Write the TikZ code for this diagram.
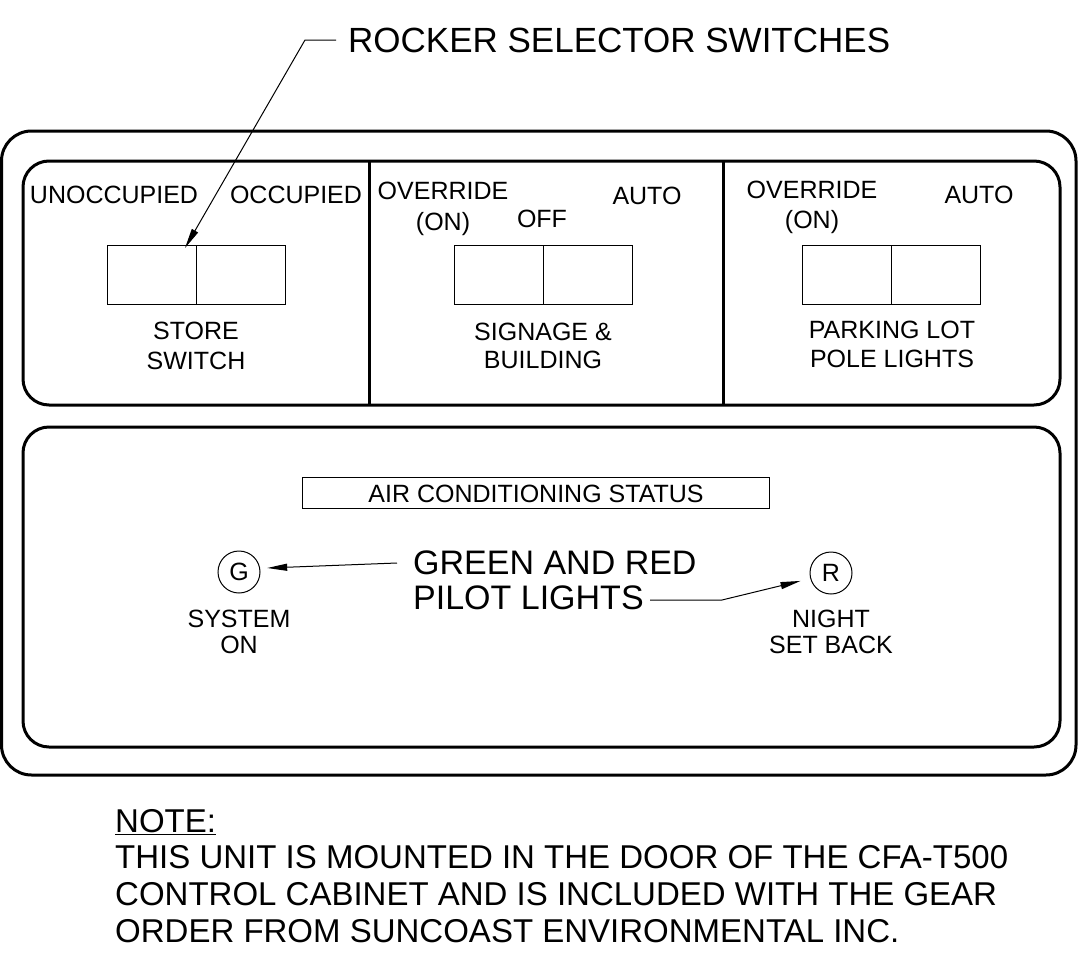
\documentclass[tikz,border=0pt]{standalone}
\usepackage{fontspec}
\setmainfont{Liberation Sans}
\usetikzlibrary{arrows.meta}
\begin{document}
\begin{tikzpicture}[x=1pt,y=-1pt,
  panel/.style={line width=3pt, rounded corners=26pt},
  divider/.style={line width=3pt},
  lab/.style={font=\fontsize{25}{30}\selectfont, inner sep=0pt, anchor=base},
  big/.style={font=\fontsize{34}{35}\selectfont, inner sep=0pt},
  notefont/.style={font=\fontsize{33}{37}\selectfont, inner sep=0pt, anchor=base west},
  half/.style={draw, line width=1pt, minimum width=89pt, minimum height=59pt, inner sep=0pt},
  lamp/.style={draw, circle, line width=1pt, minimum size=42pt, inner sep=0pt, font=\fontsize{25}{30}\selectfont},
  arr/.style={line width=1pt, -{Triangle[length=20pt,width=7pt]}}
]
\useasboundingbox (0,0) rectangle (1090,980);

% outer frame and panels
\draw[panel, rounded corners=30pt] (1.5,131) rectangle (1076,775);
\draw[panel] (23,161) rectangle (1060,405);
\draw[panel] (23,427) rectangle (1060,747);
\draw[divider] (369,161) -- (369,405);
\draw[divider] (723,161) -- (723,405);

% store switch
\node[half] (s1a) at (151.5,274.5) {};
\node[half] (s1b) at (240.5,274.5) {};
\node[lab] (unocc) at (114,203) {UNOCCUPIED};
\node[lab] (occ) at (296,203) {OCCUPIED};
\node[lab] (store) at (196,339) {STORE};
\node[lab] (sswitch) at (196,369) {SWITCH};

% signage switch
\node[half] (s2a) at (498.5,274.5) {};
\node[half] (s2b) at (587.5,274.5) {};
\node[lab] (ov1) at (443,199) {OVERRIDE};
\node[lab] (on1) at (443,230) {(ON)};
\node[lab] (off1) at (542,227) {OFF};
\node[lab] (auto1) at (647,204) {AUTO};
\node[lab] (sign) at (543,340) {SIGNAGE \&};
\node[lab] (bldg) at (543,368) {BUILDING};

% parking switch
\node[half] (s3a) at (846.5,274.5) {};
\node[half] (s3b) at (935.5,274.5) {};
\node[lab] (ov2) at (812,198) {OVERRIDE};
\node[lab] (on2) at (812,228) {(ON)};
\node[lab] (auto2) at (979,203) {AUTO};
\node[lab] (park) at (892,338) {PARKING LOT};
\node[lab] (pole) at (892,367) {POLE LIGHTS};

% rocker leader
\node[font=\fontsize{35}{40}\selectfont, inner sep=0pt, anchor=base west] (rocker) at (348,52) {ROCKER SELECTOR SWITCHES};
\coordinate (rk1) at (336,40);
\coordinate (rk2) at (305,40);
\coordinate (rtip) at (185,248);
\draw[arr] (rk1) -- (rk2) -- (rtip);

% AC status
\node[draw, line width=1pt, minimum width=467pt, minimum height=31pt, inner sep=0pt] (acbox) at (535.5,492.5) {};
\node[lab] (actext) at (536,502) {AIR CONDITIONING STATUS};

% pilot lights
\node[lamp] (g) at (239,572) {G};
\node[lamp] (r) at (831,573) {R};
\node[lab] (sys) at (239,627) {SYSTEM};
\node[lab] (son) at (239,653) {ON};
\node[lab] (night) at (831,627) {NIGHT};
\node[lab] (setback) at (831,653) {SET BACK};

\node[big, anchor=base west] (green) at (413,574) {GREEN AND RED};
\node[big, anchor=base west] (pilot) at (413,609) {PILOT LIGHTS};
\coordinate (gl) at (397,563);
\coordinate (rl1) at (650,600);
\coordinate (rl2) at (722,600);
\draw[arr, shorten >=7pt] (gl) -- (g.10);
\draw[arr, shorten >=10pt] (rl1) -- (rl2) -- (r.195);

% note
\node[notefont] (note) at (115,832) {\underline{NOTE:}};
\node[notefont] (n1) at (115,868) {THIS UNIT IS MOUNTED IN THE DOOR OF THE CFA-T500};
\node[notefont] (n2) at (115,905) {CONTROL CABINET AND IS INCLUDED WITH THE GEAR};
\node[notefont] (n3) at (115,942) {ORDER FROM SUNCOAST ENVIRONMENTAL INC.};
\end{tikzpicture}
\end{document}
